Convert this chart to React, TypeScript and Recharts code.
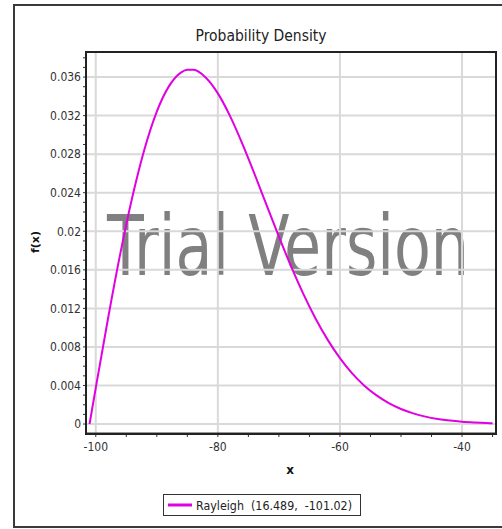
import React from "react";
import { LineChart, Line, XAxis, YAxis, CartesianGrid } from "recharts";

// x positions
const xValues = [
  -101.02, -100, -98, -96, -94, -92, -90, -88, -86, -85, -84, -82, -80, -78, -76, -74, -72, -70,
  -68, -66, -64, -62, -60, -58, -56, -54, -52, -50, -48, -46, -44, -42, -40, -38, -36, -35,
];
// f(x) values
const densityValues = [
  0, 0.00375, 0.01092, 0.01763, 0.02358, 0.02857, 0.03242, 0.03506, 0.03649, 0.03676, 0.03675,
  0.03596, 0.03431, 0.03195, 0.0291, 0.02596, 0.02268, 0.01944, 0.01635, 0.0135, 0.01095, 0.00873,
  0.00684, 0.00526, 0.00398, 0.00297, 0.00217, 0.00156, 0.00111, 0.00077, 0.00053, 0.00036,
  0.00024, 0.00016, 0.0001, 0.00008,
];

const xMajorTicks = [-100, -80, -60, -40];
const xMinorTicks = [-100, -95, -90, -85, -80, -75, -70, -65, -60, -55, -50, -45, -40, -35];
const yMajorTicks = [0, 0.004, 0.008, 0.012, 0.016, 0.02, 0.024, 0.028, 0.032, 0.036];
const yMinorTicks = Array.from({ length: 39 }, (_, i) => i / 1000);

const title = "Probability Density";
const seriesName = "Rayleigh  (16.489,  -101.02)";
const xLabel = "x";
const yLabel = "f(x)";
const watermark = "Trial Version";

const data = xValues.map((x, i) => ({ x, y: densityValues[i] }));

const tickFont = "'Liberation Sans Narrow', 'DejaVu Sans Condensed', 'Liberation Sans', sans-serif";
const magenta = "#e000e0";

const fmtX = (v: number) => (xMajorTicks.includes(v) ? String(v) : "");
const fmtY = (v: number) => {
  const k = Math.round(v * 1000);
  return k % 4 === 0 ? String(k / 1000) : "";
};

export default function App() {
  return (
    <div
      style={{
        position: "absolute",
        left: 0,
        top: 0,
        width: 502,
        height: 529,
        overflow: "hidden",
        background: "#ffffff",
      }}
    >
      <div
        style={{
          position: "absolute",
          left: 13,
          top: 4,
          width: 520,
          height: 520,
          border: "2px solid #3a3a3a",
        }}
      />
      <svg width={502} height={529} style={{ position: "absolute", left: 0, top: 0 }}>
        <text
          x={288}
          y={275}
          textAnchor="middle"
          fontFamily="'Liberation Sans Narrow', 'DejaVu Sans Condensed', sans-serif"
          fontSize={84}
          fill="#808080"
          textLength={362}
          lengthAdjust="spacingAndGlyphs"
        >
          {watermark}
        </text>
      </svg>
      <div style={{ position: "absolute", left: 0, top: 0 }}>
        <LineChart
          width={502}
          height={529}
          data={data}
          margin={{ top: 52, right: 7, left: 26, bottom: 66 }}
        >
          <CartesianGrid
            stroke="#d9d9d9"
            strokeWidth={2}
            horizontalValues={yMajorTicks}
            verticalValues={xMajorTicks}
          />
          <XAxis
            dataKey="x"
            type="number"
            domain={[-101.6, -34.6]}
            allowDataOverflow
            ticks={xMinorTicks}
            interval={0}
            tickFormatter={fmtX}
            height={30}
            tickSize={4}
            tickMargin={5}
            stroke="#333"
            tick={{ fontFamily: tickFont, fontSize: 12, fill: "#333" }}
          />
          <YAxis
            type="number"
            domain={[-0.00093, 0.0386]}
            allowDataOverflow
            ticks={yMinorTicks}
            interval={0}
            tickFormatter={fmtY}
            width={60}
            tickSize={3}
            tickMargin={2}
            stroke="#333"
            tick={{ fontFamily: tickFont, fontSize: 12, fill: "#333" }}
          />
          <Line
            dataKey="y"
            type="monotone"
            stroke={magenta}
            strokeWidth={2}
            dot={false}
            isAnimationActive={false}
          />
        </LineChart>
      </div>
      <div
        style={{
          position: "absolute",
          left: 85,
          top: 51,
          width: 408,
          height: 380,
          border: "2px solid #222",
          pointerEvents: "none",
        }}
      />
      <svg width={502} height={529} style={{ position: "absolute", left: 0, top: 0, pointerEvents: "none" }}>
        <text
          x={261}
          y={41}
          textAnchor="middle"
          fontFamily="'DejaVu Sans', sans-serif"
          fontSize={15}
          fill="#222"
          textLength={131}
          lengthAdjust="spacingAndGlyphs"
        >
          {title}
        </text>
        <text
          x={290}
          y={474}
          textAnchor="middle"
          fontFamily="'DejaVu Sans', sans-serif"
          fontWeight="bold"
          fontSize={12}
          fill="#111"
        >
          {xLabel}
        </text>
        <text
          x={39}
          y={242}
          textAnchor="middle"
          transform="rotate(-90 39 242)"
          fontFamily="'DejaVu Sans', sans-serif"
          fontWeight="bold"
          fontSize={11}
          fill="#111"
        >
          {yLabel}
        </text>
        <rect x={163.5} y={494.5} width={197} height={21} fill="#fff" stroke="#333" strokeWidth={1} />
        <line x1={168} y1={505} x2={192} y2={505} stroke={magenta} strokeWidth={3} />
        <text
          x={196}
          y={510}
          fontFamily="'DejaVu Sans', sans-serif"
          fontSize={13}
          fill="#222"
          textLength={156}
          lengthAdjust="spacingAndGlyphs"
          style={{ whiteSpace: "pre" }}
        >
          {seriesName}
        </text>
      </svg>
    </div>
  );
}
